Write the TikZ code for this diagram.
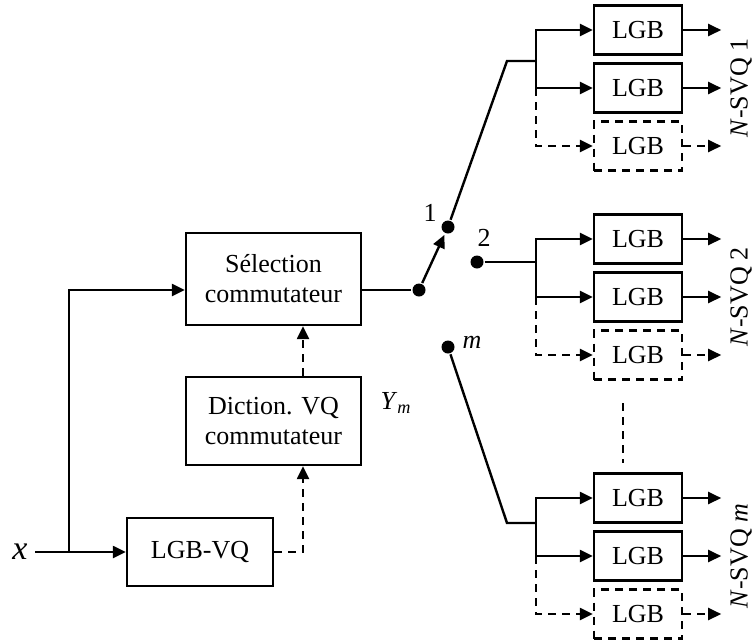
\documentclass[tikz,border=0pt]{standalone}
\usepackage{fontspec}
\setmainfont{Liberation Serif}
\usetikzlibrary{arrows.meta}
\tikzset{blk/.style={draw, minimum width=44pt, minimum height=24.5pt,
  inner sep=1pt, align=center},
  dsh/.style={dash pattern=on 4pt off 3pt},
  pt/.style={circle, fill, inner sep=0pt, minimum size=6.5pt}}

\begin{document}
\begin{tikzpicture}[x=0.5pt, y=-0.5pt, line width=1.2pt,
  >={Triangle[length=6.5pt, width=6pt]},
  every node/.style={font=\fontsize{13}{15}\selectfont}]
  \useasboundingbox (0,0) rectangle (755,643);
  % Left blocks
  \node[blk, minimum width=87.5pt, minimum height=46pt] (sel) at (273.5,279)
    {S\'election\\commutateur};
  \node[blk, minimum width=87.5pt, minimum height=44pt] (dic) at (273.5,421)
    {Diction. VQ\\commutateur};
  \node[blk, minimum width=73pt, minimum height=34pt] (lvq) at (200,552) {LGB-VQ};
  \node (xin) at (20,552) {\fontsize{17}{20}\selectfont\textit{x}};
  \node (ym) at (396,403) {\textit{Y}\textsubscript{\textit{m}}};
  \coordinate (br) at (69,552);
  \coordinate (dv) at (303,0);
  % Switch contacts
  \node[pt] (sw) at (419,290) {};
  \node[pt] (k1) at (448,227) {};
  \node[pt] (k2) at (477,262) {};
  \node[pt] (km) at (448,347) {};
  \node (l1) at (430,213) {1};
  \node (l2) at (484,238) {2};
  \node (lm) at (472,342) {\textit{m}};
  % Input and control paths
  \draw[->] (xin.east |- br) -- (lvq.west);
  \draw[->] (br) |- (sel.west |- sw);
  \draw (sel.east |- sw) -- (sw);
  \draw[->, shorten >=0.5pt] (sw) -- (k1);
  \draw[dsh, ->] (lvq.east) -| (dic.south -| dv);
  \draw[dsh, ->] (dic.north -| dv) -- (sel.south -| dv);
  % N-SVQ groups
  \foreach \g/\y/\j/\t in {1/30/61/1, 2/239/262/2, m/498/523/{\textit{m}}} {
    \node[blk] (lgba\g) at (638,\y) {LGB};
    \node[blk] (lgbb\g) at (638,\y+58) {LGB};
    \node[blk, dsh] (lgbc\g) at (638,\y+116) {LGB};
    \coordinate (j\g) at (536,\j);
    \draw[->] (j\g) |- (lgba\g.west);
    \draw[->] (j\g) |- (lgbb\g.west);
    \draw[dsh, ->] (lgbb\g.west -| j\g) |- (lgbc\g.west);
    \draw[->] (lgba\g.east) -- ++(38,0);
    \draw[->] (lgbb\g.east) -- ++(38,0);
    \draw[dsh, ->] (lgbc\g.east) -- ++(38,0);
    \node[rotate=90] (nsvq\g) at (741,\y+58) {\textit{N}-SVQ~\t};
  }
  % Links from the contacts
  \coordinate (t1) at (507,61);
  \coordinate (tm) at (507,523);
  \draw (k1) -- (t1) -- (j1);
  \draw (k2) -- (j2);
  \draw (km) -- (tm) -- (jm);
  \coordinate (va) at (623,403);
  \coordinate (vb) at (623,463);
  \draw[dsh] (va) -- (vb);
\end{tikzpicture}
\end{document}
